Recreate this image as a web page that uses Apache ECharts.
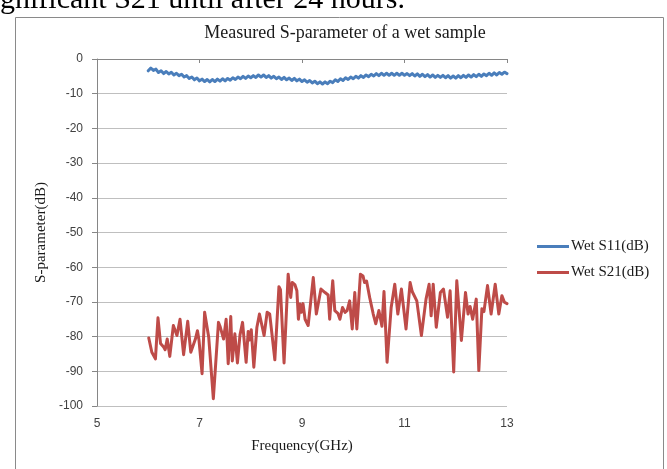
<!DOCTYPE html>
<html>
<head>
<meta charset="utf-8">
<script src="https://cdn.jsdelivr.net/npm/echarts@6/dist/echarts.min.js"></script>
<style>
html,body{margin:0;padding:0;background:#fff;}
#chart{width:667px;height:469px;}
</style>
</head>
<body>
<div id="chart"></div>
<script>
// ---- data ----
var chartTitle = 'Measured S-parameter of a wet sample';
var pageText = 'significant S21 until after 24 hours.';
var xName = 'Frequency(GHz)';
var yName = 'S-parameter(dB)';
var seriesNames = ['Wet S11(dB)', 'Wet S21(dB)'];

var s11Freq = [6.00,6.05,6.10,6.15,6.20,6.25,6.30,6.35,6.40,6.45,6.50,6.55,6.60,6.65,6.70,6.75,6.80,6.85,6.90,6.95,
7.00,7.05,7.10,7.15,7.20,7.25,7.30,7.35,7.40,7.45,7.50,7.55,7.60,7.65,7.70,7.75,7.80,7.85,7.90,7.95,
8.00,8.05,8.10,8.15,8.20,8.25,8.30,8.35,8.40,8.45,8.50,8.55,8.60,8.65,8.70,8.75,8.80,8.85,8.90,8.95,
9.00,9.05,9.10,9.15,9.20,9.25,9.30,9.35,9.40,9.45,9.50,9.55,9.60,9.65,9.70,9.75,9.80,9.85,9.90,9.95,
10.00,10.05,10.10,10.15,10.20,10.25,10.30,10.35,10.40,10.45,10.50,10.55,10.60,10.65,10.70,10.75,10.80,10.85,10.90,10.95,
11.00,11.05,11.10,11.15,11.20,11.25,11.30,11.35,11.40,11.45,11.50,11.55,11.60,11.65,11.70,11.75,11.80,11.85,11.90,11.95,
12.00,12.05,12.10,12.15,12.20,12.25,12.30,12.35,12.40,12.45,12.50,12.55,12.60,12.65,12.70,12.75,12.80,12.85,12.90,12.95,13.00];
var s11Val = [-3.4,-2.6,-3.3,-2.9,-3.9,-3.4,-4.2,-3.6,-4.3,-3.8,-4.6,-4.1,-4.8,-4.4,-5.2,-4.8,-5.6,-5.2,-6.0,-5.5,
-6.3,-5.8,-6.5,-5.9,-6.6,-5.9,-6.5,-5.8,-6.4,-5.7,-6.3,-5.6,-6.1,-5.4,-5.9,-5.2,-5.7,-5.0,-5.6,-4.9,
-5.4,-4.8,-5.3,-4.6,-5.2,-4.6,-5.3,-4.8,-5.5,-5.0,-5.7,-5.2,-5.9,-5.3,-6.0,-5.5,-6.2,-5.6,-6.3,-5.8,
-6.5,-6.0,-6.7,-6.2,-6.9,-6.4,-7.1,-6.6,-7.2,-6.6,-7.1,-6.4,-6.8,-6.0,-6.5,-5.7,-6.2,-5.4,-5.9,-5.2,
-5.7,-5.0,-5.5,-4.8,-5.3,-4.6,-5.1,-4.4,-4.9,-4.2,-4.8,-4.1,-4.7,-4.1,-4.7,-4.1,-4.7,-4.1,-4.7,-4.1,
-4.7,-4.2,-4.8,-4.2,-4.9,-4.3,-5.0,-4.4,-5.1,-4.5,-5.2,-4.6,-5.3,-4.7,-5.3,-4.7,-5.4,-4.8,-5.5,-4.9,
-5.5,-4.8,-5.4,-4.7,-5.3,-4.6,-5.2,-4.5,-5.1,-4.4,-5.0,-4.3,-4.8,-4.1,-4.7,-4.0,-4.6,-3.9,-4.4,-3.8,-4.2];

var s21Freq = [6.01,6.07,6.10,6.14,6.19,6.24,6.30,6.33,6.37,6.42,6.49,6.52,6.56,6.62,6.69,6.77,6.83,6.92,6.96,6.99,
7.05,7.10,7.18,7.27,7.37,7.40,7.47,7.52,7.56,7.61,7.64,7.69,7.74,7.79,7.84,7.91,7.95,7.98,8.01,8.06,
8.12,8.17,8.20,8.26,8.32,8.37,8.47,8.55,8.58,8.65,8.73,8.78,8.81,8.86,8.90,8.93,8.96,8.99,9.02,9.06,
9.12,9.22,9.28,9.37,9.45,9.51,9.54,9.60,9.64,9.70,9.74,9.79,9.84,9.88,9.93,9.98,10.03,10.07,10.14,10.19,
10.22,10.26,10.32,10.39,10.44,10.50,10.56,10.60,10.66,10.74,10.81,10.87,10.94,10.97,11.03,11.11,11.15,11.24,11.33,11.42,
11.48,11.52,11.56,11.62,11.70,11.76,11.84,11.89,11.96,12.02,12.11,12.19,12.24,12.28,12.33,12.40,12.45,12.51,12.55,12.62,
12.69,12.77,12.84,12.90,12.95,13.00];
var s21Val = [-80.4,-84.5,-84.0,-86.4,-74.6,-82.0,-83.0,-83.8,-80.7,-85.7,-76.8,-77.0,-79.7,-75.0,-85.2,-75.6,-84.5,-80.7,-78.3,-81.0,
-90.7,-73.0,-80.2,-97.9,-75.9,-77.0,-80.7,-75.0,-87.8,-74.2,-87.0,-79.2,-87.6,-79.5,-75.9,-87.4,-78.5,-81.0,-78.0,-88.8,
-77.3,-73.5,-73.2,-79.7,-73.0,-73.5,-86.7,-65.6,-66.5,-87.6,-62.0,-68.7,-64.4,-65.0,-66.8,-75.0,-70.6,-73.0,-70.5,-75.0,
-76.8,-63.0,-73.5,-66.3,-67.3,-68.0,-75.0,-63.9,-72.5,-73.3,-75.0,-71.6,-73.0,-72.5,-69.7,-77.8,-67.3,-77.8,-62.0,-62.5,
-64.4,-64.0,-68.7,-73.5,-76.3,-72.5,-77.0,-67.0,-87.4,-71.6,-64.9,-73.5,-66.3,-66.8,-77.8,-64.4,-67.0,-69.7,-79.7,-69.2,
-64.9,-74.0,-64.9,-77.3,-67.3,-66.3,-74.4,-66.8,-90.2,-63.9,-81.1,-67.3,-73.5,-71.3,-75.0,-69.2,-89.8,-72.0,-72.8,-65.3,
-73.5,-64.9,-73.5,-68.2,-70.1,-70.5];

var xMin = 5, xMax = 13, xStep = 2;
var yMin = -100, yMax = 0, yStep = 10;

function pairs(xs, ys) { return xs.map(function (x, i) { return [x, ys[i]]; }); }

var chart = echarts.init(document.getElementById('chart'), null, {renderer: 'canvas'});
var serif = '"Liberation Serif", "DejaVu Serif", serif';
var sans = '"Liberation Sans", "DejaVu Sans", sans-serif';
var gridColor = '#bfbfbf';
var axisColor = '#868686';

chart.setOption({
  animation: false,
  backgroundColor: '#ffffff',
  title: {
    text: chartTitle,
    left: 340, top: 19, textAlign: 'center',
    textStyle: {fontFamily: serif, fontSize: 18, fontWeight: 'normal', color: '#1a1a1a'}
  },
  graphic: [
    {type: 'rect', shape: {x: 15.5, y: 17.5, width: 648, height: 480},
     style: {fill: 'none', stroke: '#8a8a8a', lineWidth: 1}, silent: true},
    {type: 'text', x: -20, y: 15,
     style: {text: pageText, font: '30px ' + serif, fill: '#000', verticalAlign: 'bottom', align: 'left'}}
  ],
  legend: {
    orient: 'vertical', left: 532, top: 234,
    itemWidth: 32, itemHeight: 3, itemGap: 11, icon: 'rect',
    data: seriesNames,
    textStyle: {fontFamily: serif, fontSize: 15, color: '#1a1a1a', padding: [0, 0, 0, -3]}
  },
  grid: {left: 97, right: 160, top: 59, bottom: 63},
  xAxis: [{
    type: 'value', min: xMin, max: xMax, interval: xStep, position: 'bottom',
    name: xName, nameLocation: 'middle', nameGap: 33,
    nameTextStyle: {fontFamily: serif, fontSize: 15, color: '#1a1a1a'},
    axisLine: {show: false}, axisTick: {show: false}, splitLine: {show: false},
    axisLabel: {margin: 12, fontFamily: sans, fontSize: 12, color: '#404040'}
  }, {
    type: 'value', min: xMin, max: xMax, interval: xStep, position: 'top',
    axisLine: {show: true, lineStyle: {color: axisColor}},
    axisTick: {show: true, inside: true, length: 4, lineStyle: {color: axisColor}},
    axisLabel: {show: false}, splitLine: {show: false}
  }],
  yAxis: {
    type: 'value', min: yMin, max: yMax, interval: yStep,
    name: yName, nameLocation: 'middle', nameGap: 45, nameRotate: 90,
    nameTextStyle: {fontFamily: serif, fontSize: 15, color: '#1a1a1a'},
    axisLine: {show: true, lineStyle: {color: axisColor}},
    axisTick: {show: true, length: 5, lineStyle: {color: axisColor}},
    axisLabel: {margin: 14, fontFamily: sans, fontSize: 12, color: '#404040'},
    splitLine: {show: true, lineStyle: {color: gridColor, width: 1}}
  },
  series: [{
    name: seriesNames[0], type: 'line', xAxisIndex: 0,
    data: pairs(s11Freq, s11Val), showSymbol: false, symbol: 'none',
    lineStyle: {width: 3, color: '#4a7ebb', cap: 'round', join: 'round'},
    itemStyle: {color: '#4a7ebb'}
  }, {
    name: seriesNames[1], type: 'line', xAxisIndex: 0,
    data: pairs(s21Freq, s21Val), showSymbol: false, symbol: 'none',
    lineStyle: {width: 3, color: '#be4b48', cap: 'round', join: 'round'},
    itemStyle: {color: '#be4b48'}
  }]
});
</script>
</body>
</html>
